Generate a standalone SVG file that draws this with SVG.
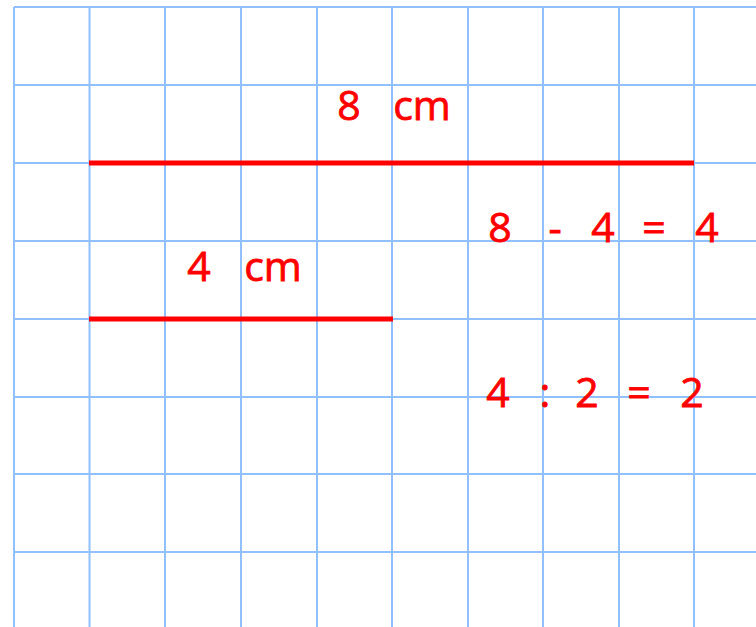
<svg xmlns="http://www.w3.org/2000/svg" width="756" height="627" viewBox="0 0 756 627">
<style>
.g{stroke:#90c0ff;stroke-width:2;fill:none}
.r{stroke:#ff0000;stroke-width:5}
.t{font-family:"Open Sans","Liberation Sans",sans-serif;font-size:41px;fill:#ff0000;text-anchor:middle;stroke:#ff0000;stroke-width:0.8}
</style>
<rect width="756" height="627" fill="#ffffff"/>
<g id="grid" class="g">
<path d="M14,7V627M89.5,7V627M165,7V627M241,7V627M317,7V627M392,7V627M468,7V627M543,7V627M619,7V627M694,7V627"/>
<path d="M14,7H756M14,85H756M14,163H756M14,241H756M14,319H756M14,397H756M14,474H756M14,552H756"/>
</g>
<g id="line8">
<line class="r" x1="89" y1="163" x2="694" y2="163"/>
<text class="t" y="120"><tspan x="349">8</tspan><tspan x="422">cm</tspan></text>
</g>
<g id="line4">
<line class="r" x1="89" y1="319" x2="393" y2="319"/>
<text class="t" y="281"><tspan x="199">4</tspan><tspan x="273">cm</tspan></text>
</g>
<g id="eq1">
<text class="t" y="242"><tspan x="500">8</tspan><tspan x="555">-</tspan><tspan x="603">4</tspan><tspan x="654">=</tspan><tspan x="707">4</tspan></text>
</g>
<g id="eq2">
<text class="t" y="407"><tspan x="498">4</tspan><tspan x="545">:</tspan><tspan x="587">2</tspan><tspan x="639">=</tspan><tspan x="692">2</tspan></text>
</g>
</svg>
